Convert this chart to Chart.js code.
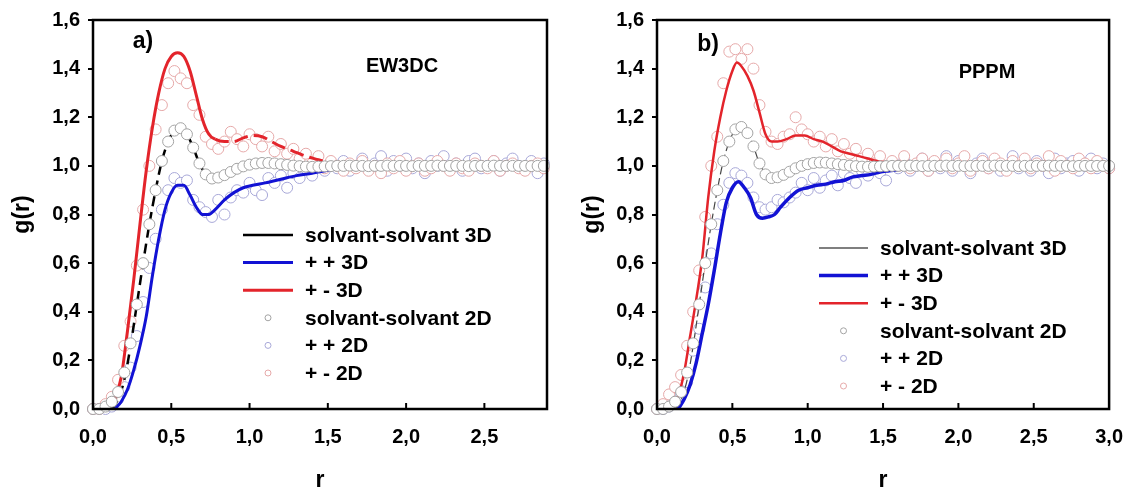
<!DOCTYPE html>
<html><head><meta charset="utf-8">
<script src="https://cdn.jsdelivr.net/npm/chart.js@4.4.1/dist/chart.umd.min.js"></script>
<style>
html,body{margin:0;padding:0;background:#fff;width:1139px;height:498px;overflow:hidden}
#wl{position:absolute;left:0;top:0;width:570px;height:498px}
#wr{position:absolute;left:570px;top:0;width:569px;height:498px}
</style></head><body>
<div id="wl"><canvas id="cl" width="570" height="498"></canvas></div>
<div id="wr"><canvas id="cr" width="569" height="498"></canvas></div>
<script>
// ---------- labels ----------
const seriesLabels = ['solvant-solvant 3D','+ + 3D','+ - 3D','solvant-solvant 2D','+ + 2D','+ - 2D'];
const xTicks = [0, 0.5, 1.0, 1.5, 2.0, 2.5, 3.0];
const yTicks = [0, 0.2, 0.4, 0.6, 0.8, 1.0, 1.2, 1.4, 1.6];

// ---------- panel a) EW3DC ----------
const rGridA = [0,0.04,0.08,0.12,0.16,0.2,0.24,0.28,0.32,0.36,0.4,0.44,0.48,0.52,0.56,0.6,0.64,0.68,0.72,0.76,0.8,0.84,0.88,0.92,0.96,1,1.04,1.08,1.12,1.16,1.2,1.24,1.28,1.32,1.36,1.4,1.44,1.48,1.52,1.56,1.6,1.64,1.68,1.72,1.76,1.8,1.84,1.88,1.92,1.96,2,2.04,2.08,2.12,2.16,2.2,2.24,2.28,2.32,2.36,2.4,2.44,2.48,2.52,2.56,2.6,2.64,2.68,2.72,2.76,2.8,2.84,2.88];
const ss2dA = [0,0,0.01,0.03,0.07,0.15,0.27,0.43,0.60,0.76, 0.90,1.02,1.10,1.145,1.155,1.13,1.075,1.01,0.965,0.948, 0.952,0.962,0.975,0.988,0.998,1.005,1.01,1.012,1.012,1.01, 1.007,1.004,1.001,0.999,0.997,0.996,0.997,0.998,0.999,1.0,
  1.0,1.001,1.0,1.0,0.999,1.0, 1.0,1.001,1.0,1.0,1.0,0.999, 1.0,1.0,1.0,1.001,1.0,1.0, 1.0,1.0,0.999,1.0,1.0,1.0, 1.001,1.0,1.0,1.0,1.0,1.0, 0.999,1.0,1.0];
const pp2dA = [0,0,0,0.01,0.04,0.09,0.17,0.30,0.44,0.58, 0.70,0.82,0.90,0.95,0.93,0.94,0.86,0.83,0.81,0.79, 0.86,0.80,0.87,0.90,0.89,0.93,0.90,0.88,0.95,0.93, 0.96,0.91,0.97,0.95,0.99,0.96,1.00,0.98,1.01,0.99,
  1.02,0.98,1.00,1.03,0.99,1.01, 1.04,0.98,1.02,1.00,1.03,0.99, 1.01,0.97,1.02,1.00,1.04,0.99, 1.01,0.98,1.02,1.03,0.99,1.00, 1.02,0.98,1.01,1.03,1.00,0.99, 1.02,0.97,1.01];
const pm2dA = [0,0,0.02,0.05,0.12,0.26,0.36,0.59,0.82,1.00, 1.15,1.25,1.34,1.39,1.36,1.34,1.25,1.21,1.12,1.09, 1.07,1.10,1.14,1.11,1.08,1.13,1.11,1.08,1.12,1.06, 1.09,1.05,1.07,1.03,1.05,1.01,1.04,0.99,1.02,1.00,
  0.98,1.01,0.99,1.02,0.98,1.00, 0.97,1.01,0.99,1.02,0.98,1.00, 1.01,0.98,0.99,1.02,1.00,0.98, 1.01,0.99,0.98,1.01,1.00,0.99, 1.02,0.98,1.00,1.01,0.99,0.98, 1.00,1.01,0.99];
const rSs3dA = [0.12,0.16,0.20,0.24,0.28,0.32,0.36,0.40,0.44,0.48,0.52,0.56,0.60,0.64,0.68,0.72,0.76];
const ss3dA  = [0.00,0.04,0.12,0.26,0.43,0.60,0.76,0.90,1.02,1.10,1.145,1.155,1.13,1.075,1.01,0.965,0.95];
const rPp3dA = [0.14,0.18,0.22,0.26,0.30,0.34,0.38,0.42,0.46,0.50,0.54,0.58,0.62,0.66,0.70,0.74,0.78,0.84,0.90,0.96,1.02,1.10,1.20,1.30,1.40,1.52,1.60,1.80,2.00,2.20,2.40,2.60,2.80,2.90];
const pp3dA  = [0.00,0.03,0.08,0.16,0.26,0.38,0.55,0.70,0.82,0.89,0.92,0.92,0.88,0.83,0.80,0.80,0.82,0.86,0.89,0.91,0.92,0.93,0.945,0.96,0.97,0.985,1.0,1.01,1.0,1.0,1.0,1.0,1.0,1.0];
const rPm3dA = [0.10,0.14,0.18,0.22,0.26,0.30,0.34,0.38,0.42,0.46,0.50,0.54,0.58,0.62,0.66,0.70,0.74,0.78,0.84,0.90,0.96,1.02,1.08,1.14,1.20,1.28,1.36,1.44,1.52,1.60,1.80,2.00,2.20,2.40,2.60,2.80,2.90];
const pm3dA  = [0.00,0.04,0.13,0.32,0.53,0.76,0.98,1.16,1.30,1.40,1.45,1.465,1.45,1.39,1.29,1.19,1.13,1.11,1.10,1.10,1.115,1.125,1.12,1.10,1.08,1.06,1.04,1.025,1.01,1.0,1.0,1.0,1.0,1.0,1.0,1.0,1.0];

// ---------- panel b) PPPM ----------
const rGridB = [0,0.04,0.08,0.12,0.16,0.2,0.24,0.28,0.32,0.36,0.4,0.44,0.48,0.52,0.56,0.6,0.64,0.68,0.72,0.76,0.8,0.84,0.88,0.92,0.96,1,1.04,1.08,1.12,1.16,1.2,1.24,1.28,1.32,1.36,1.4,1.44,1.48,1.52,1.56,1.6,1.64,1.68,1.72,1.76,1.8,1.84,1.88,1.92,1.96,2,2.04,2.08,2.12,2.16,2.2,2.24,2.28,2.32,2.36,2.4,2.44,2.48,2.52,2.56,2.6,2.64,2.68,2.72,2.76,2.8,2.84,2.88,2.92,2.96,3];
const ss2dB = [0,0,0.01,0.03,0.07,0.15,0.27,0.43,0.60,0.76, 0.90,1.02,1.10,1.15,1.16,1.135,1.08,1.01,0.965,0.95, 0.953,0.963,0.976,0.99,1.0,1.007,1.012,1.014,1.013,1.01, 1.007,1.004,1.001,0.999,0.997,0.996,0.997,0.998,0.999,1.0,
  1.0,1.0,1.001,1.0,0.999,1.0, 1.0,1.0,1.001,1.0,1.0,0.999, 1.0,1.0,1.0,1.0,1.001,1.0, 1.0,1.0,0.999,1.0,1.0,1.0, 1.0,1.001,1.0,1.0,1.0,0.999, 1.0,1.0,1.0,1.0,1.0,1.0];
const pp2dB = [0,0,0.01,0.03,0.06,0.11,0.24,0.33,0.50,0.64, 0.76,0.84,0.93,0.97,0.96,0.93,0.87,0.83,0.82,0.83, 0.86,0.85,0.87,0.89,0.93,0.90,0.95,0.91,0.94,0.96, 0.92,0.97,0.95,0.93,0.98,0.96,1.00,0.97,0.94,1.01,
  0.99,1.02,0.98,1.00,1.03,0.98, 1.01,0.99,1.04,0.98,1.02,1.00, 0.97,1.01,1.03,0.99,1.02,0.98, 1.00,1.04,0.99,1.01,0.98,1.02, 1.00,0.97,1.03,0.99,1.01,1.02, 0.98,1.00,1.03,0.99,1.01,0.99];
const pm2dB = [0,0.02,0.06,0.09,0.14,0.26,0.40,0.57,0.79,1.00, 1.12,1.34,1.47,1.48,1.44,1.48,1.40,1.25,1.14,1.10, 1.09,1.12,1.13,1.20,1.15,1.13,1.10,1.12,1.08,1.11, 1.06,1.09,1.05,1.07,1.03,1.05,1.01,1.04,1.00,1.02,
  1.00,1.04,0.99,1.01,1.03,0.98, 1.02,1.00,1.03,0.99,1.01,1.04, 0.98,1.00,1.02,0.99,1.03,1.01, 0.98,1.02,1.00,1.03,0.99,1.01, 1.00,1.04,0.98,1.02,1.00,0.99, 1.03,1.01,0.99,1.02,1.00,0.99];
const rSs3dB = [0.12,0.16,0.20,0.24,0.28,0.32,0.36,0.40,0.44,0.48,0.52,0.56,0.60,0.64,0.68,0.72];
const ss3dB  = [0.00,0.04,0.12,0.26,0.43,0.60,0.76,0.90,1.02,1.10,1.15,1.16,1.135,1.08,1.01,0.965];
const rPp3dB = [0.14,0.18,0.22,0.26,0.30,0.34,0.38,0.42,0.46,0.50,0.54,0.58,0.62,0.66,0.70,0.74,0.78,0.82,0.88,0.94,1.00,1.06,1.12,1.18,1.24,1.30,1.36,1.42,1.48,1.54,1.60];
const pp3dB  = [0.00,0.04,0.10,0.19,0.31,0.43,0.57,0.72,0.85,0.91,0.935,0.91,0.87,0.80,0.785,0.79,0.80,0.83,0.87,0.90,0.91,0.92,0.925,0.935,0.94,0.955,0.96,0.965,0.975,0.98,0.985];
const rPm3dB = [0.10,0.14,0.18,0.22,0.26,0.30,0.34,0.38,0.42,0.46,0.50,0.53,0.56,0.60,0.64,0.68,0.72,0.76,0.80,0.86,0.92,0.98,1.04,1.10,1.16,1.22,1.28,1.34,1.40,1.46,1.52,1.58];
const pm3dB  = [0.00,0.05,0.15,0.30,0.45,0.62,0.87,1.06,1.20,1.31,1.39,1.425,1.41,1.37,1.31,1.22,1.13,1.10,1.10,1.11,1.125,1.125,1.11,1.10,1.08,1.06,1.05,1.04,1.03,1.02,1.015,1.01];

// ---------- helpers ----------
const FONT = "'Liberation Sans', Arial, Helvetica, sans-serif";
const pts = (xs, ys) => xs.map((x, i) => ({x: x, y: ys[i]}));
const comma = v => Number(v).toFixed(1).replace('.', ',');

const framePlugin = {
  id: 'frame',
  afterDatasetsDraw(chart, args, opts) {
    const {ctx, chartArea: a} = chart;
    const xs = chart.scales.x;
    ctx.save();
    ctx.strokeStyle = '#000';
    ctx.lineWidth = 2.5;
    ctx.strokeRect(a.left, a.top, a.right - a.left, a.bottom - a.top);
    ctx.lineWidth = 2;
    xs.ticks.forEach(t => {
      const px = xs.getPixelForValue(t.value);
      if (px > a.left + 3 && px < a.right - 3) {
        ctx.beginPath(); ctx.moveTo(px, a.bottom); ctx.lineTo(px, a.bottom - 6); ctx.stroke();
      }
    });
    // annotations
    ctx.fillStyle = '#000';
    ctx.textAlign = 'center';
    ctx.textBaseline = 'middle';
    opts.notes.forEach(n => { ctx.font = 'bold ' + n.size + 'px ' + FONT; ctx.fillText(n.text, n.x, n.y); });
    // legend
    const L = opts.legend;
    ctx.font = 'bold ' + L.size + 'px ' + FONT;
    ctx.textAlign = 'left';
    seriesLabels.forEach((lab, i) => {
      const ds = chart.data.datasets.find(d => d.label === lab);
      if (!ds) return;
      const y = L.y0 + i * L.dy;
      ctx.setLineDash([]);
      if (ds.showLine) {
        ctx.strokeStyle = ds.legendColor || ds.borderColor;
        ctx.lineWidth = ds.legendWidth || ds.borderWidth;
        ctx.beginPath(); ctx.moveTo(L.x0, y); ctx.lineTo(L.x1, y); ctx.stroke();
      } else {
        ctx.strokeStyle = ds.pointBorderColor;
        ctx.lineWidth = 1;
        ctx.beginPath(); ctx.arc((L.x0 + L.x1) / 2, y, 3, 0, Math.PI * 2); ctx.stroke();
      }
      ctx.fillStyle = '#000';
      ctx.fillText(lab, L.tx, y + 1);
    });
    ctx.restore();
  }
};

function pointSet(label, data, color) {
  return {label, data, showLine: false, pointRadius: 5.5, pointHoverRadius: 5.5,
    pointBorderWidth: 1, pointBorderColor: color, pointBackgroundColor: '#fff', clip: false};
}
function lineSet(label, data, color, width, dash, seg) {
  const d = {label, data, showLine: true, pointRadius: 0, borderColor: color, borderWidth: width,
    borderDash: dash || [], cubicInterpolationMode: 'monotone', fill: false};
  if (seg) d.segment = seg;
  return d;
}

function makeChart(id, p) {
  return new Chart(document.getElementById(id), {
    type: 'scatter',
    data: {datasets: p.datasets},
    options: {
      responsive: false, animation: false, devicePixelRatio: 1,
      layout: {padding: {top: 17, right: p.padRight, bottom: 0, left: 0}},
      plugins: {legend: {display: false}, tooltip: {enabled: false},
        frame: {notes: p.notes, legend: p.legend}},
      scales: {
        x: {type: 'linear', min: 0, max: p.xMax,
          afterBuildTicks: s => { s.ticks = xTicks.filter(v => v <= p.xMax + 1e-9).map(v => ({value: v})); },
          afterFit: s => { s.height = 89; },
          border: {display: false},
          grid: {display: false, drawTicks: false},
          ticks: {color: '#000', font: {family: FONT, size: 20, weight: 'bold'}, padding: 16, maxRotation: 0,
            callback: v => comma(v)},
          title: {display: true, text: 'r', color: '#000', font: {family: FONT, size: 23, weight: 'bold'},
            padding: {top: 0, bottom: 4}}
        },
        y: {type: 'linear', min: 0, max: 1.6,
          afterBuildTicks: s => { s.ticks = yTicks.map(v => ({value: v})); },
          afterFit: s => { s.width = p.yWidth; },
          border: {display: false},
          grid: {display: true, drawOnChartArea: false, drawTicks: true, tickLength: 5, tickWidth: 2, tickColor: '#000', color: '#000', lineWidth: 0},
          ticks: {color: '#000', font: {family: FONT, size: 20, weight: 'bold'}, padding: 8,
            callback: v => comma(v)},
          title: {display: true, text: 'g(r)', color: '#000', font: {family: FONT, size: 23, weight: 'bold'},
            padding: {top: 9, bottom: 0}}
        }
      }
    },
    plugins: [framePlugin]
  });
}

const GRAY = '#a3a3a3', LBLUE = '#a8a8d8', PINK = '#e6a9a9';
const RED = '#e3242b', BLUE = '#1212d4';

makeChart('cl', {
  xMax: 2.9, yWidth: 93, padRight: 23,
  notes: [{text: 'a)', x: 143, y: 42, size: 23}, {text: 'EW3DC', x: 402, y: 66, size: 20}],
  legend: {x0: 243, x1: 293, tx: 305, y0: 235, dy: 27.6, size: 21},
  datasets: [
    pointSet(seriesLabels[3], pts(rGridA, ss2dA), GRAY),
    lineSet(seriesLabels[0], pts(rSs3dA, ss3dA), '#000', 2.5, [10, 6]),
    lineSet(seriesLabels[2], pts(rPm3dA, pm3dA), RED, 3, [], {borderDash: c => c.p0.parsed.x >= 0.76 ? [14, 6] : undefined}),
    lineSet(seriesLabels[1], pts(rPp3dA, pp3dA), BLUE, 3, [], {borderDash: c => c.p0.parsed.x >= 1.52 ? [10, 12] : undefined}),
    pointSet(seriesLabels[5], pts(rGridA, pm2dA), PINK),
    pointSet(seriesLabels[4], pts(rGridA, pp2dA), LBLUE)
  ].map((d, i) => Object.assign(d, {order: i}))
});

makeChart('cr', {
  xMax: 3.0, yWidth: 87, padRight: 26,
  notes: [{text: 'b)', x: 138, y: 45, size: 23}, {text: 'PPPM', x: 417, y: 72, size: 20}],
  legend: {x0: 249, x1: 298, tx: 310, y0: 248, dy: 27.6, size: 21},
  datasets: [
    pointSet(seriesLabels[3], pts(rGridB, ss2dB), GRAY),
    Object.assign(lineSet(seriesLabels[0], pts(rSs3dB, ss3dB), '#444', 1.2, [8, 4]), {legendWidth: 1.5, legendColor: '#555'}),
    lineSet(seriesLabels[2], pts(rPm3dB, pm3dB), RED, 2.5),
    lineSet(seriesLabels[1], pts(rPp3dB, pp3dB), BLUE, 3.5),
    pointSet(seriesLabels[5], pts(rGridB, pm2dB), PINK),
    pointSet(seriesLabels[4], pts(rGridB, pp2dB), LBLUE)
  ].map((d, i) => Object.assign(d, {order: i}))
});
</script>
</body></html>
